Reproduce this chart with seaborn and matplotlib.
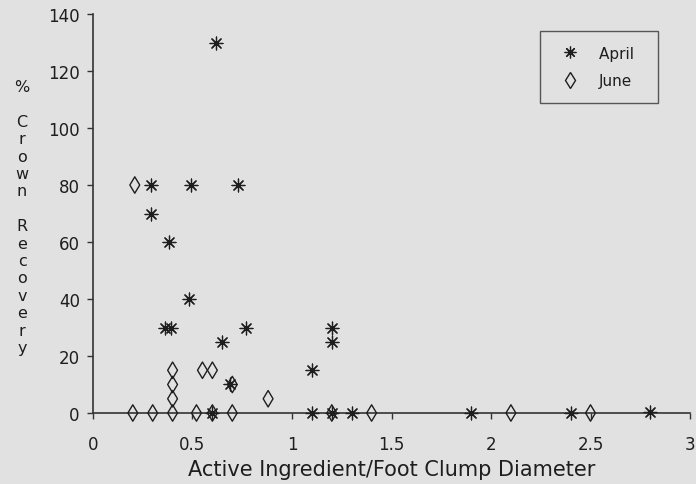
import matplotlib
matplotlib.use("Agg")
import matplotlib.pyplot as plt
import seaborn as sns
import pandas as pd
from matplotlib.lines import Line2D

april_x = [0.62, 0.29, 0.49, 0.73, 0.29, 0.38, 0.48, 0.36, 0.39, 0.65, 0.77, 0.69,
           1.10, 1.20, 1.20, 0.60, 1.10, 1.20, 1.30, 1.90, 2.40, 2.80]
april_y = [130, 80, 80, 80, 70, 60, 40, 30, 30, 25, 30, 10,
           15, 30, 25, 0, 0, 0, 0, 0, 0, 0.5]
june_x = [0.21, 0.20, 0.30, 0.40, 0.40, 0.40, 0.40, 0.52, 0.55, 0.60, 0.60,
          0.70, 0.70, 0.88, 1.20, 1.40, 2.10, 2.50]
june_y = [80, 0, 0, 0, 5, 10, 15, 0, 15, 15, 0,
          10, 0, 5, 0, 0, 0, 0]

x_ticks = [0, 0.5, 1, 1.5, 2, 2.5, 3]
x_tick_labels = ["0", "0.5", "1", "1.5", "2", "2.5", "3"]
y_ticks = [0, 20, 40, 60, 80, 100, 120, 140]

BG = "#e1e1e1"
INK = "#1e1e1e"
sns.set_theme(style="ticks")
plt.rcParams["font.family"] = ["DejaVu Sans"]

april = pd.DataFrame({"x": april_x, "y": april_y})
june = pd.DataFrame({"x": june_x, "y": june_y})

fig = plt.figure(figsize=(6.96, 4.85), dpi=100, facecolor=BG)
ax = fig.add_axes([0.1336, 0.1464, 0.8578, 0.8226], facecolor=BG)

star = (8, 2, 0)
sns.scatterplot(data=april, x="x", y="y", marker=star, s=85, color=INK,
                linewidth=0.9, ax=ax, zorder=3, clip_on=False)
sns.scatterplot(data=june, x="x", y="y", marker="d", s=70, facecolor="none",
                edgecolor=INK, linewidth=1.0, ax=ax, zorder=3, clip_on=False)

ax.set_xlim(0, 3)
ax.set_ylim(0, 140)
ax.set_xticks(x_ticks)
ax.set_xticklabels(x_tick_labels)
ax.set_yticks(y_ticks)
for s in ["top", "right"]:
    ax.spines[s].set_visible(False)
for s in ["left", "bottom"]:
    ax.spines[s].set_color("#333333")
    ax.spines[s].set_linewidth(1.2)
ax.tick_params(axis="both", colors="#333333", labelcolor=INK, labelsize=12,
               length=4.5, width=1.0)
ax.tick_params(axis="x", pad=11)
ax.tick_params(axis="y", pad=5)
ax.set_xlabel("Active Ingredient/Foot Clump Diameter", fontsize=15, color=INK,
              labelpad=5)
ax.set_ylabel("")

fig.text(22 / 696, 1 - 218 / 485, "%\n\nC\nr\no\nw\nn\n\nR\ne\nc\no\nv\ne\nr\ny",
         ha="center", va="center", fontsize=11.5, color=INK, linespacing=1.2)

handles = [
    Line2D([], [], marker=star, linestyle="none", color=INK, markersize=8.5,
           markeredgewidth=0.9, label="April"),
    Line2D([], [], marker="d", linestyle="none", markerfacecolor="none",
           markeredgecolor=INK, markersize=8.5, markeredgewidth=1.0, label="June"),
]
leg = ax.legend(handles=handles, loc="upper left",
                bbox_to_anchor=(540 / 696, 1 - 32 / 485), bbox_transform=fig.transFigure,
                frameon=True, fancybox=False, fontsize=11, borderpad=0.95,
                handletextpad=0.9, labelspacing=0.85, borderaxespad=0)
for t in leg.get_texts():
    t.set_color(INK)
    t.set_text(t.get_text() + "  ")
leg.get_frame().set_edgecolor("#333333")
leg.get_frame().set_facecolor(BG)
leg.get_frame().set_linewidth(1.0)

fig.savefig("out.png", dpi=100, facecolor=BG)
